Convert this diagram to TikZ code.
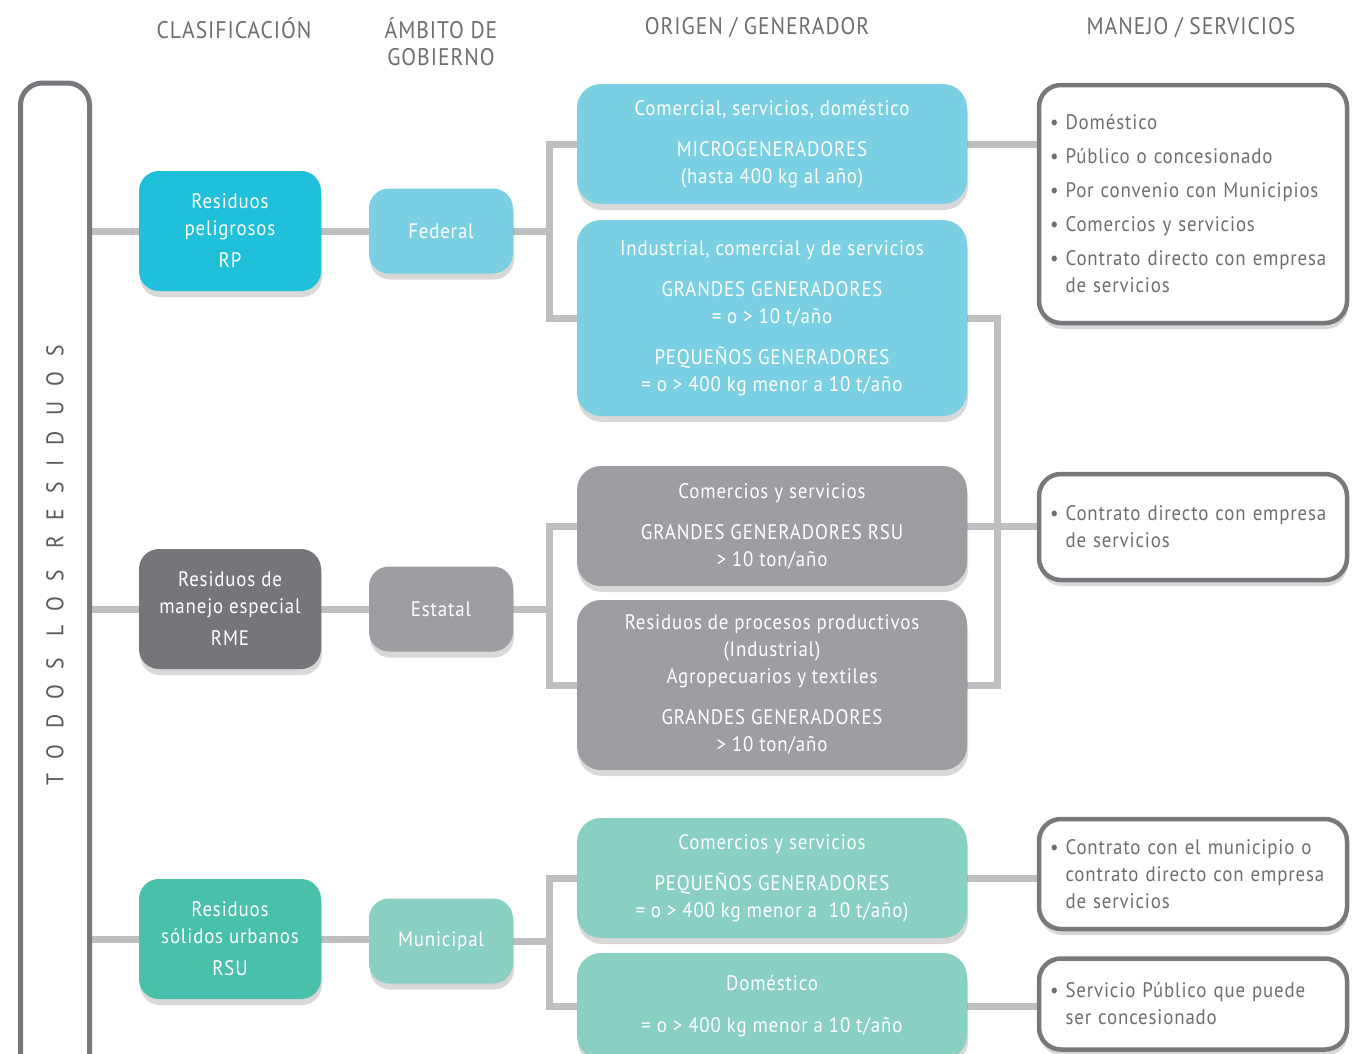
\documentclass[tikz,border=0pt]{standalone}
\usepackage{fontspec}
\setmainfont[FakeStretch=0.9, LetterSpace=4]{PT Sans}
\usetikzlibrary{shadows,positioning,calc}

\definecolor{rpcyan}{HTML}{20C0DA}
\definecolor{rplight}{HTML}{7BCFE3}
\definecolor{rmedark}{HTML}{75767A}
\definecolor{rmelight}{HTML}{9D9EA2}
\definecolor{rsuteal}{HTML}{48C0AA}
\definecolor{rsulight}{HTML}{89D0C3}
\definecolor{conngray}{HTML}{BEBFC1}
\definecolor{framegray}{HTML}{77787B}
\definecolor{textgray}{HTML}{6D6E71}
\definecolor{sidegray}{HTML}{58595B}

\newcommand\bodyfont{\fontsize{21}{27}\selectfont}
\newcommand\headfont{\fontsize{24}{27}\selectfont}
\newcommand\sidefont{\fontsize{24}{24}\selectfont\addfontfeatures{LetterSpace=64}}

\pgfdeclarelayer{bg}
\pgfsetlayers{bg,main}

\begin{document}
\begin{tikzpicture}[
    x=1pt, y=-1pt,
    box/.style={rectangle, rounded corners=20pt, text=white, align=center, inner sep=0pt, font=\bodyfont,
        drop shadow={opacity=0.3, shadow xshift=1pt, shadow yshift=-6pt}},
    classbox/.style={box, minimum width=182pt, minimum height=120pt},
    ambbox/.style={box, minimum width=144pt, minimum height=85pt},
    origbox/.style={box, minimum width=390pt, rounded corners=24pt},
    svcbox/.style={rectangle, rounded corners=22pt, draw=framegray, line width=4.5pt, fill=white,
        text=textgray, align=left, font=\bodyfont, minimum width=308pt, text width=286pt, inner xsep=11pt,
        drop shadow={opacity=0.3, shadow xshift=1pt, shadow yshift=-6pt}},
    conn/.style={draw=conngray, line width=7pt},
    head/.style={text=textgray, font=\headfont, align=center}
]
\useasboundingbox (0,0) rectangle (1352,1053);
\begin{pgfonlayer}{bg}
\fill[white] (0,0) rectangle (1352,1053);
\end{pgfonlayer}

% Headers
\node[head] (hclas) at (234,28) {CLASIFICACIÓN};
\node[head] (hamb) at (441,42) {ÁMBITO DE\\GOBIERNO};
\node[head] (horig) at (757,28) {ORIGEN / GENERADOR};
\node[head] (hman) at (1191,28) {MANEJO / SERVICIOS};

% Todos los residuos
\node[draw=framegray, line width=5pt, fill=white, rounded corners=22pt, minimum width=69pt, minimum height=1030pt,
    inner sep=0pt, drop shadow={opacity=0.25, shadow xshift=-2pt, shadow yshift=-4pt}] (lft) at (55,598) {};
\node[rotate=90, text=sidegray, font=\sidefont] (lftlabel) at (55,565) {TODOS LOS RESIDUOS};

% Clasificacion
\node[classbox, fill=rpcyan] (rp) at (230,231) {Residuos\\peligrosos\\[5pt]RP};
\node[classbox, fill=rmedark] (rme) at (230,609) {Residuos de\\manejo especial\\[5pt]RME};
\node[classbox, fill=rsuteal] (rsu) at (230,939) {Residuos\\sólidos urbanos\\[5pt]RSU};

% Ambito de gobierno
\node[ambbox, fill=rplight] (fed) at (441,231) {Federal};
\node[ambbox, fill=rmelight] (est) at (441,609) {Estatal};
\node[ambbox, fill=rsulight] (mun) at (441,941) {Municipal};

% Origen / generador
\node[origbox, fill=rplight, minimum height=120pt] (micro) at (772,144)
    {Comercial, servicios, doméstico\\[14pt]MICROGENERADORES\\(hasta 400 kg al año)};
\node[origbox, fill=rplight, minimum height=196pt] (grandes) at (772,318)
    {Industrial, comercial y de servicios\\[14pt]GRANDES GENERADORES\\= o > 10 t/año\\[14pt]PEQUEÑOS GENERADORES\\= o > 400 kg menor a 10 t/año};
\node[origbox, fill=rmelight, minimum height=120pt] (rmegr) at (772,526)
    {Comercios y servicios\\[14pt]GRANDES GENERADORES RSU\\> 10 ton/año};
\node[origbox, fill=rmelight, minimum height=170pt] (rmeproc) at (772,685)
    {Residuos de procesos productivos\\(Industrial)\\Agropecuarios y textiles\\[14pt]GRANDES GENERADORES\\> 10 ton/año};
\node[origbox, fill=rsulight, minimum height=120pt] (rsupeq) at (772,878)
    {Comercios y servicios\\[14pt]PEQUEÑOS GENERADORES\\= o > 400 kg menor a \ 10 t/año)};
\node[origbox, fill=rsulight, minimum height=106pt] (rsudom) at (772,1006)
    {Doméstico\\[15pt]= o > 400 kg menor a 10 t/año};

% Manejo / servicios
\node[svcbox, minimum height=238pt] (mdom) at (1193,204)
    {\textbullet\ Doméstico\\[7pt]\textbullet\ Público o concesionado\\[7pt]\textbullet\ Por convenio con Municipios\\[7pt]\textbullet\ Comercios y servicios\\[7pt]\textbullet\ Contrato directo con empresa\\\hphantom{\textbullet\ }de servicios};
\node[svcbox, minimum height=106pt] (mcontrato) at (1193,527)
    {\textbullet\ Contrato directo con empresa\\\hphantom{\textbullet\ }de servicios};
\node[svcbox, minimum height=110pt] (mmunic) at (1193,874)
    {\textbullet\ Contrato con el municipio o\\\hphantom{\textbullet\ }contrato directo con empresa\\\hphantom{\textbullet\ }de servicios};
\node[svcbox, minimum height=91pt] (mpublico) at (1193,1004)
    {\textbullet\ Servicio Público que puede\\\hphantom{\textbullet\ }ser concesionado};

% Connectors
\coordinate (jfed) at ($(fed.east)+(36,0)$);
\coordinate (jest) at ($(est.east)+(36,0)$);
\coordinate (jmun) at ($(mun.east)+(36,0)$);
\coordinate (jrme) at ($(rmegr.east)+(30,0)$);
\begin{pgfonlayer}{bg}
\foreach \c/\a in {rp/fed, rme/est, rsu/mun} {
    \draw[conn] (lft.east |- \c) -- (\c.west);
    \draw[conn] (\c.east) -- (\c.east -| \a.west);
}
\draw[conn] (fed.east) -- (jfed);
\draw[conn] (micro.west) -| (jfed) |- (grandes.west);
\draw[conn] (est.east) -- (jest);
\draw[conn] (rmegr.west) -| (jest) |- (rmeproc.west);
\draw[conn] (mun.east) -- (jmun);
\draw[conn] (rsupeq.west) -| (jmun) |- (rsudom.west);
\draw[conn] (micro.east) -- (micro.east -| mdom.west);
\draw[conn] (grandes.east) -| (jrme) |- (rmeproc.east);
\draw[conn] (rmegr.east) -- (rmegr.east -| mcontrato.west);
\draw[conn] (rsupeq.east) -- (rsupeq.east -| mmunic.west);
\draw[conn] (rsudom.east) -- (rsudom.east -| mpublico.west);
\end{pgfonlayer}
\end{tikzpicture}
\end{document}
